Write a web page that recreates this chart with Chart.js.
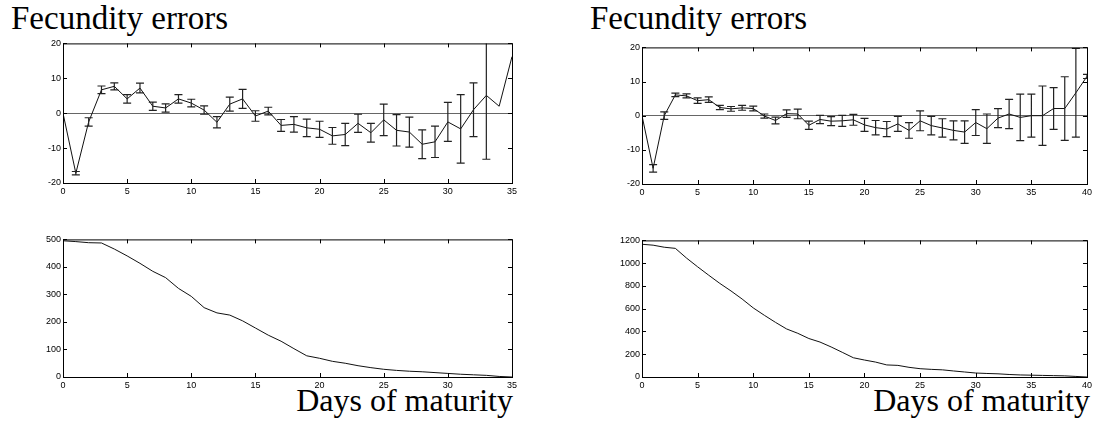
<!DOCTYPE html>
<html>
<head>
<meta charset="utf-8">
<script src="https://cdn.jsdelivr.net/npm/chart.js@4/dist/chart.umd.min.js"></script>
<style>
  body { margin: 0; background: #fff; width: 1099px; height: 424px; position: relative; overflow: hidden; }
  canvas { position: absolute; }
  .ttl { position: absolute; font-family: "Liberation Serif", "Times New Roman", serif; color: #000; white-space: nowrap; line-height: 1; }
</style>
</head>
<body>
<div class="ttl" style="left:11px;top:2px;font-size:33px">Fecundity errors</div>
<div class="ttl" style="left:590px;top:2px;font-size:33px">Fecundity errors</div>
<div class="ttl" style="right:586px;top:384px;font-size:32px">Days of maturity</div>
<div class="ttl" style="right:9px;top:384px;font-size:32px">Days of maturity</div>

<canvas id="errLeft" width="500" height="160" style="left:20px;top:36px"></canvas>
<canvas id="errRight" width="495" height="157" style="left:600px;top:40px"></canvas>
<canvas id="cntLeft" width="500" height="158" style="left:20px;top:232px"></canvas>
<canvas id="cntRight" width="495" height="157" style="left:600px;top:233px"></canvas>

<script>
// days on the x axis
var daysA = [0,1,2,3,4,5,6,7,8,9,10,11,12,13,14,15,16,17,18,19,20,21,22,23,24,25,26,27,28,29,30,31,32,33,34,35];
var daysB = [0,1,2,3,4,5,6,7,8,9,10,11,12,13,14,15,16,17,18,19,20,21,22,23,24,25,26,27,28,29,30,31,32,33,34,35,36,37,38,39,40];

// fecundity error (mean) and error bar half-length
var errA = [0,-17.2,-2.5,6.7,7.7,4.1,7.2,2,1.5,4.1,2.9,0.9,-2.6,2.6,4.1,-0.8,0.6,-3.5,-3.2,-4.2,-4.6,-6.5,-6.1,-2.9,-5.6,-1.9,-4.9,-5.4,-8.9,-8.2,-2.5,-4.5,1,5.1,2,16.2];
var sdA  = [0,0.5,1.2,1.1,1,1.2,1.4,1.2,1.2,1.2,1.1,1.2,1.6,2,2.7,1.5,1.1,1.7,2.2,2.5,2.3,2.4,3.2,2.6,2.7,4.5,4.5,4.3,4.1,4.5,5.6,9.8,7.7,18.3,0,0];
var errB = [0,-15.4,0,6.1,5.8,4.4,4.7,2.4,2,2.3,2.1,-0.1,-1.4,0.6,0.5,-2.8,-1.1,-1.6,-1.5,-1.2,-2.7,-3.5,-3.9,-2.4,-4.3,-1.5,-2.9,-3.6,-4.3,-4.8,-2,-3.8,-0.7,0.5,-0.5,0,0,2.1,2.1,6.7,11.5];
var sdB  = [0,1.1,1.1,0.5,0.6,0.8,0.8,0.6,0.7,0.7,0.7,0.6,1,1.1,1.4,1.2,1.2,1.3,1.6,1.6,1.9,2.1,2.2,2.2,2.3,2.9,2.7,2.7,2.8,3.3,3.8,4.3,2.8,4.3,6.8,6.3,8.7,6.1,9.3,13,0.6];

// number of individuals still alive
var countA = [495,492,488,487,465,440,413,384,361,322,293,252,233,225,204,178,152,130,103,77,68,57,50,41,34,28,24,21,19,16,13,10,8,6,2,0];
var countB = [1166,1158,1140,1130,1045,968,894,822,756,685,607,542,480,422,384,338,307,264,217,169,149,131,106,102,85,73,67,63,53,44,35,31,28,22,18,16,14,12,10,5,0];

// tick labels
var xTicksA = [0,5,10,15,20,25,30,35];
var xTicksB = [0,5,10,15,20,25,30,35,40];
var yTicksErr = [-20,-10,0,10,20];
var yTicksCntA = [0,100,200,300,400,500];
var yTicksCntB = [0,200,400,600,800,1000,1200];

var tickFont = { family: 'Liberation Sans, Arial, sans-serif', size: 9 };

// box round the plot with inward tick marks on all four sides
var framePlugin = {
  id: 'frame',
  afterDatasetsDraw: function (chart) {
    var a = chart.chartArea, c = chart.ctx, len = 4;
    c.save();
    c.strokeStyle = '#000';
    c.lineWidth = 1;
    c.strokeRect(a.left + 0.5, a.top + 0.5, a.right - a.left, a.bottom - a.top);
    c.beginPath();
    chart.scales.x.ticks.forEach(function (t) {
      var px = Math.round(chart.scales.x.getPixelForValue(t.value)) + 0.5;
      c.moveTo(px, a.bottom); c.lineTo(px, a.bottom - len);
      c.moveTo(px, a.top); c.lineTo(px, a.top + len);
    });
    chart.scales.y.ticks.forEach(function (t) {
      var py = Math.round(chart.scales.y.getPixelForValue(t.value)) + 0.5;
      c.moveTo(a.left, py); c.lineTo(a.left + len, py);
      c.moveTo(a.right, py); c.lineTo(a.right - len, py);
    });
    c.stroke();
    c.restore();
  }
};

// vertical error bars with caps
var errPlugin = {
  id: 'errBars',
  afterDatasetsDraw: function (chart, args, opts) {
    if (!opts.sd) return;
    var a = chart.chartArea, c = chart.ctx, xs = chart.scales.x, ys = chart.scales.y;
    var pts = chart.data.datasets[0].data;
    c.save();
    c.beginPath();
    c.rect(a.left, a.top, a.right - a.left, a.bottom - a.top);
    c.clip();
    c.strokeStyle = '#222';
    c.lineWidth = 1.2;
    c.beginPath();
    pts.forEach(function (p, i) {
      var e = opts.sd[i];
      if (!e) return;
      var px = xs.getPixelForValue(p.x);
      var y1 = ys.getPixelForValue(p.y + e), y2 = ys.getPixelForValue(p.y - e);
      c.moveTo(px, y1); c.lineTo(px, y2);
      c.moveTo(px - 4, y1); c.lineTo(px + 4, y1);
      c.moveTo(px - 4, y2); c.lineTo(px + 4, y2);
    });
    c.stroke();
    c.restore();
  }
};

function plainLabel(v) { return String(v); }

function makeChart(id, xs, ys, sd, yMin, yMax, yTicks, xTicks, yW, padRight, zeroLine) {
  var pts = xs.map(function (d, i) { return { x: d, y: ys[i] }; });
  return new Chart(document.getElementById(id), {
    type: 'line',
    data: {
      datasets: [{
        data: pts,
        borderColor: '#111',
        borderWidth: 1,
        pointRadius: 0,
        tension: 0,
        fill: false
      }]
    },
    options: {
      responsive: false,
      animation: false,
      devicePixelRatio: 1,
      layout: { padding: { top: 5, right: padRight, left: 0, bottom: 0 } },
      plugins: {
        legend: { display: false },
        tooltip: { enabled: false },
        errBars: { sd: sd }
      },
      scales: {
        x: {
          type: 'linear',
          min: xTicks[0],
          max: xTicks[xTicks.length - 1],
          afterBuildTicks: function (s) { s.ticks = xTicks.map(function (v) { return { value: v }; }); },
          afterFit: function (s) { s.height = 13; },
          grid: { display: false, drawTicks: false },
          border: { display: false },
          ticks: { font: tickFont, color: '#000', padding: 3, maxRotation: 0, autoSkip: false, callback: plainLabel }
        },
        y: {
          min: yMin,
          max: yMax,
          afterBuildTicks: function (s) { s.ticks = yTicks.map(function (v) { return { value: v }; }); },
          afterFit: function (s) { s.width = yW; },
          grid: {
            drawTicks: false,
            color: function (ctx) {
              return zeroLine && ctx.tick && ctx.tick.value === 0 ? '#666' : 'rgba(0,0,0,0)';
            }
          },
          border: { display: false },
          ticks: { font: tickFont, color: '#000', padding: 2, autoSkip: false, callback: plainLabel }
        }
      }
    },
    plugins: [errPlugin, framePlugin]
  });
}

makeChart('errLeft', daysA, errA, sdA, -20, 20, yTicksErr, xTicksA, 43, 7, true);
makeChart('errRight', daysB, errB, sdB, -20, 20, yTicksErr, xTicksB, 42, 8, true);
makeChart('cntLeft', daysA, countA, null, 0, 500, yTicksCntA, xTicksA, 43, 7, false);
makeChart('cntRight', daysB, countB, null, 0, 1200, yTicksCntB, xTicksB, 42, 8, false);
</script>
</body>
</html>
